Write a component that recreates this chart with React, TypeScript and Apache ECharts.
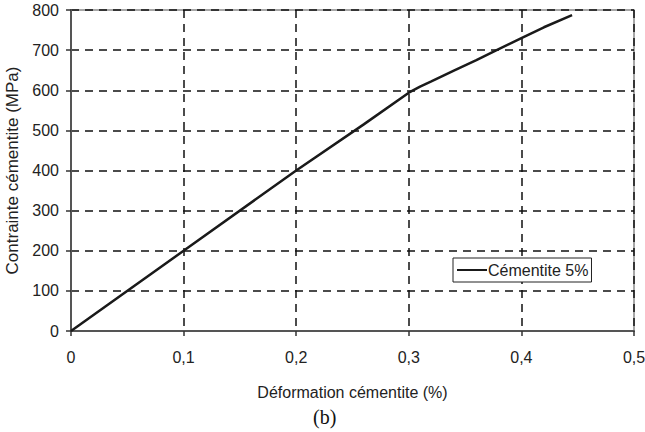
import React, { useEffect, useRef } from "react";
import * as echarts from "echarts";

const strain = [0, 0.1, 0.2, 0.26, 0.3, 0.31, 0.32, 0.34, 0.36, 0.378, 0.4, 0.42, 0.445];
const stress = [0, 200, 400, 515, 594, 609, 622, 649, 675, 700, 730, 757, 787];
const seriesName = "Cémentite 5%";
const xTitle = "Déformation cémentite (%)";
const yTitle = "Contrainte cémentite (MPa)";
const caption = "(b)";

export default function App() {
  const ref = useRef<HTMLDivElement>(null);
  useEffect(() => {
    const chart = echarts.init(ref.current!, null, { renderer: "svg" });
    const font = "Liberation Sans, Arial, sans-serif";
    const fs = 16;
    chart.setOption({
      animation: false,
      backgroundColor: "#fff",
      grid: {
        left: 71,
        right: 11,
        top: 10,
        bottom: 101,
        containLabel: false,
        outerBoundsMode: "none",
        show: true,
        borderColor: "#8a8a8a",
        borderWidth: 1.5,
      },
      xAxis: {
        type: "value",
        min: 0,
        max: 0.5,
        interval: 0.1,
        name: xTitle,
        nameLocation: "middle",
        nameGap: 53,
        nameTextStyle: { color: "#222", fontSize: fs, fontFamily: font },
        axisLine: { lineStyle: { color: "#555", width: 2 } },
        axisTick: { show: true, length: 5, lineStyle: { color: "#333", width: 1.5 } },
        axisLabel: {
          color: "#222",
          fontSize: fs,
          fontFamily: font,
          margin: 18,
          formatter: (v: number) => (v === 0 ? "0" : String(Math.round(v * 10) / 10).replace(".", ",")),
        },
        splitLine: { show: true, lineStyle: { color: "#111", width: 1.5, type: [8, 6] } },
      },
      yAxis: {
        type: "value",
        min: 0,
        max: 800,
        interval: 100,
        name: yTitle,
        nameLocation: "middle",
        nameGap: 49,
        nameTextStyle: { color: "#222", fontSize: 17, fontFamily: font },
        axisLine: { show: true, lineStyle: { color: "#555", width: 2 } },
        axisTick: { show: true, length: 5, lineStyle: { color: "#333", width: 1.5 } },
        axisLabel: { color: "#222", fontSize: fs, fontFamily: font, margin: 12 },
        splitLine: { show: true, lineStyle: { color: "#111", width: 1.5, type: [8, 6] } },
      },
      legend: {
        left: 453,
        top: 258,
        orient: "vertical",
        backgroundColor: "#fff",
        borderColor: "#222",
        borderWidth: 1,
        borderRadius: 0,
        padding: [4, 3, 4, 4],
        icon: "rect",
        itemWidth: 30,
        itemHeight: 2,
        itemGap: 0,
        textStyle: { color: "#222", fontSize: fs, fontFamily: font, padding: [0, 0, 0, -4] },
        data: [seriesName],
      },
      graphic: [
        {
          type: "text",
          left: 313,
          top: 407,
          style: { text: caption, font: "20px 'Liberation Serif', 'Times New Roman', serif", fill: "#111" },
        },
      ],
      series: [
        {
          name: seriesName,
          type: "line",
          data: strain.map((x, i) => [x, stress[i]]),
          showSymbol: false,
          symbol: "none",
          lineStyle: { color: "#1a1a1a", width: 2.5 },
          itemStyle: { color: "#1a1a1a" },
          z: 5,
        },
      ],
    });
    return () => chart.dispose();
  }, []);
  return <div ref={ref} style={{ width: 645, height: 432, position: "absolute", left: 0, top: 0 }} />;
}
